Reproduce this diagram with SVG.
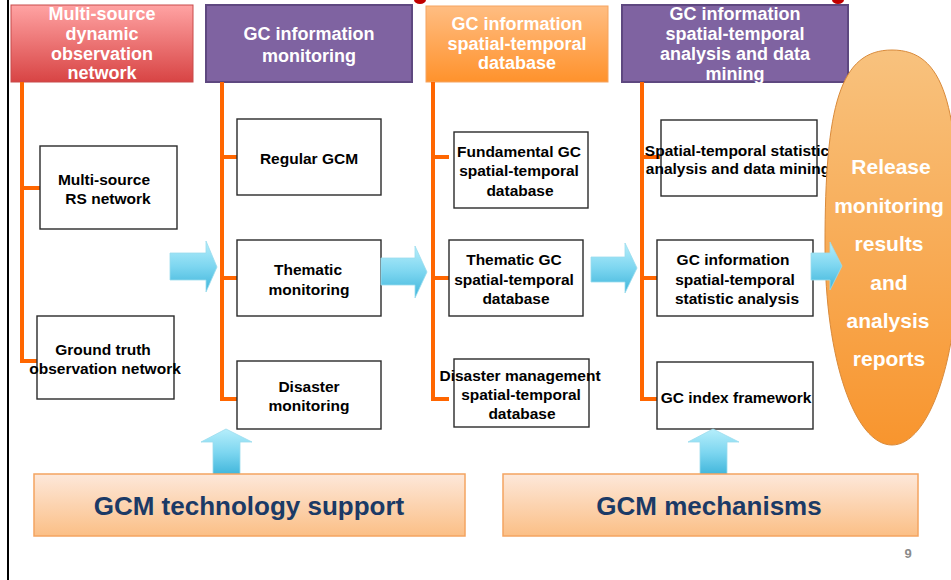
<svg xmlns="http://www.w3.org/2000/svg" width="951" height="580" viewBox="0 0 951 580">
  <defs>
    <linearGradient id="gRed" x1="0" y1="0" x2="0" y2="1">
      <stop offset="0" stop-color="#ffa3a3"/>
      <stop offset="1" stop-color="#d84444"/>
    </linearGradient>
    <linearGradient id="gOrange" x1="0" y1="0" x2="0" y2="1">
      <stop offset="0" stop-color="#ffbd82"/>
      <stop offset="1" stop-color="#ff922c"/>
    </linearGradient>
    <linearGradient id="gPeach" x1="0" y1="0" x2="0" y2="1">
      <stop offset="0" stop-color="#fde8da"/>
      <stop offset="1" stop-color="#fbbf86"/>
    </linearGradient>
    <linearGradient id="gEgg" x1="0" y1="0" x2="0" y2="1">
      <stop offset="0" stop-color="#f8c27e"/>
      <stop offset="1" stop-color="#f8952e"/>
    </linearGradient>
    <linearGradient id="gCyan" x1="0" y1="0" x2="0" y2="1">
      <stop offset="0" stop-color="#b6eefb"/>
      <stop offset="0.5" stop-color="#7dd6f0"/>
      <stop offset="1" stop-color="#3db4da"/>
    </linearGradient>
    <style>
      .hdr { font-family: "Liberation Sans", Arial, sans-serif; font-weight: bold; font-size: 18px; fill: #ffffff; text-anchor: middle; }
      .lbl { font-family: "Liberation Sans", Arial, sans-serif; font-weight: bold; font-size: 15.5px; fill: #000000; text-anchor: middle; }
      .big { font-family: "Liberation Sans", Arial, sans-serif; font-weight: bold; font-size: 26px; fill: #1b3a66; text-anchor: middle; }
      .egg { font-family: "Liberation Sans", Arial, sans-serif; font-weight: bold; font-size: 21px; fill: #ffffff; text-anchor: middle; }
      .box { fill: #ffffff; stroke: #2a2a2a; stroke-width: 1.4; }
      .purple { fill: #7f63a1; stroke: #5e4880; stroke-width: 2; }
      .trunk { stroke: #ff6600; stroke-width: 4; fill: none; }
      .flow { fill: url(#gCyan); stroke: #9adcee; stroke-width: 0.8; }
    </style>
  </defs>

  <rect width="951" height="580" fill="#ffffff"/>
  <!-- page edge on the left -->
  <line x1="8" y1="0" x2="8" y2="580" stroke="#000" stroke-width="2"/>
  <!-- red title remnants at top edge -->
  <ellipse cx="420" cy="0" rx="6" ry="4" fill="#c00000"/>
  <ellipse cx="838" cy="0" rx="6" ry="4" fill="#c00000"/>

  <!-- column headers -->
  <g id="hdr-observation">
    <rect x="11" y="5" width="182" height="77" fill="url(#gRed)" stroke="#c84a4a" stroke-width="1"/>
    <text class="hdr" x="102" y="20">Multi-source</text>
    <text class="hdr" x="102" y="40">dynamic</text>
    <text class="hdr" x="102" y="60">observation</text>
    <text class="hdr" x="102" y="79">network</text>
  </g>
  <g id="hdr-monitoring">
    <rect class="purple" x="206" y="5" width="206" height="77"/>
    <text class="hdr" x="309" y="40">GC information</text>
    <text class="hdr" x="309" y="62">monitoring</text>
  </g>
  <g id="hdr-database">
    <rect x="426" y="6" width="182" height="76" fill="url(#gOrange)" stroke="#f5a460" stroke-width="1"/>
    <text class="hdr" x="517" y="30">GC information</text>
    <text class="hdr" x="517" y="50">spatial-temporal</text>
    <text class="hdr" x="517" y="69">database</text>
  </g>
  <g id="hdr-analysis">
    <rect class="purple" x="622" y="5" width="226" height="77"/>
    <text class="hdr" x="735" y="20">GC information</text>
    <text class="hdr" x="735" y="40">spatial-temporal</text>
    <text class="hdr" x="735" y="60">analysis and data</text>
    <text class="hdr" x="735" y="80">mining</text>
  </g>

  <!-- orange tree connectors -->
  <g id="connectors">
    <path class="trunk" d="M22 82 V361 H37 M22 188 H40"/>
    <path class="trunk" d="M222 82 V399 H237 M222 157 H237 M222 278 H237"/>
    <path class="trunk" d="M433 82 V399 H449 M433 157 H449 M433 278 H449"/>
    <path class="trunk" d="M642 82 V399 H660 M642 157 H660 M642 278 H657"/>
  </g>

  <!-- observation column -->
  <g id="n-rs">
    <rect class="box" x="40" y="146" width="137" height="83"/>
    <text class="lbl" x="104" y="185">Multi-source</text>
    <text class="lbl" x="108" y="204">RS network</text>
  </g>
  <g id="n-ground">
    <rect class="box" x="37" y="316" width="137" height="83"/>
    <text class="lbl" x="103" y="355">Ground truth</text>
    <text class="lbl" x="105" y="374">observation network</text>
  </g>

  <!-- monitoring column -->
  <g id="n-regular">
    <rect class="box" x="237" y="119" width="144" height="76"/>
    <text class="lbl" x="309" y="164">Regular GCM</text>
  </g>
  <g id="n-thematic">
    <rect class="box" x="237" y="240" width="144" height="76"/>
    <text class="lbl" x="308" y="275">Thematic</text>
    <text class="lbl" x="309" y="295">monitoring</text>
  </g>
  <g id="n-disaster">
    <rect class="box" x="237" y="361" width="144" height="68"/>
    <text class="lbl" x="309" y="392">Disaster</text>
    <text class="lbl" x="309" y="411">monitoring</text>
  </g>

  <!-- database column -->
  <g id="n-fundamental-db">
    <rect class="box" x="454" y="132" width="134" height="76"/>
    <text class="lbl" x="519" y="157">Fundamental GC</text>
    <text class="lbl" x="519" y="176">spatial-temporal</text>
    <text class="lbl" x="520" y="196">database</text>
  </g>
  <g id="n-thematic-db">
    <rect class="box" x="449" y="240" width="134" height="76"/>
    <text class="lbl" x="514" y="265">Thematic GC</text>
    <text class="lbl" x="514" y="285">spatial-temporal</text>
    <text class="lbl" x="516" y="304">database</text>
  </g>
  <g id="n-disaster-db">
    <rect class="box" x="454" y="359" width="135" height="68"/>
    <text class="lbl" x="520" y="381">Disaster management</text>
    <text class="lbl" x="521" y="400">spatial-temporal</text>
    <text class="lbl" x="522" y="419">database</text>
  </g>

  <!-- analysis column -->
  <g id="n-mining">
    <rect class="box" x="661" y="120" width="156" height="76"/>
    <text class="lbl" x="737" y="156">Spatial-temporal statistic</text>
    <text class="lbl" x="738" y="174">analysis and data mining</text>
  </g>
  <g id="n-statistic">
    <rect class="box" x="657" y="240" width="156" height="76"/>
    <text class="lbl" x="733" y="265">GC information</text>
    <text class="lbl" x="735" y="285">spatial-temporal</text>
    <text class="lbl" x="737" y="304">statistic analysis</text>
  </g>
  <g id="n-index">
    <rect class="box" x="657" y="362" width="156" height="67"/>
    <text class="lbl" x="736" y="403">GC index framework</text>
  </g>

  <!-- release results (egg shape) -->
  <g id="n-release">
    <path d="M892 50 C840 50 825 105 825 245 C825 360 855 445 892 445 C929 445 959 360 959 245 C959 105 944 50 892 50 Z" fill="url(#gEgg)" stroke="#d98a3a" stroke-width="1"/>
    <text class="egg" x="891" y="174">Release</text>
    <text class="egg" x="889" y="213">monitoring</text>
    <text class="egg" x="889" y="251">results</text>
    <text class="egg" x="889" y="290">and</text>
    <text class="egg" x="888" y="328">analysis</text>
    <text class="egg" x="889" y="366">reports</text>
  </g>

  <!-- cyan flow arrows, drawn above the boxes and the egg -->
  <g id="flow-arrows">
    <path class="flow" d="M170 253 H206 V241 L217 267 L206 292 V280 H170 Z"/>
    <path class="flow" d="M381 258 H415 V246 L427 272 L415 298 V285 H381 Z"/>
    <path class="flow" d="M591 257 H625 V243 L637 268 L625 293 V282 H591 Z"/>
    <path class="flow" d="M811 253 H830 V242 L842 266 L830 290 V280 H811 Z"/>
    <path class="flow" d="M213 476 V442 H201 L226 429 L252 442 H240 V476 Z"/>
    <path class="flow" d="M700 476 V442 H688 L713 429 L739 442 H727 V476 Z"/>
  </g>

  <!-- supporting bars -->
  <g id="n-tech-support">
    <rect x="34" y="474" width="431" height="62" fill="url(#gPeach)" stroke="#f4a460" stroke-width="1.5"/>
    <text class="big" x="249" y="515">GCM technology support</text>
  </g>
  <g id="n-mechanisms">
    <rect x="503" y="474" width="415" height="62" fill="url(#gPeach)" stroke="#f4a460" stroke-width="1.5"/>
    <text class="big" x="709" y="515">GCM mechanisms</text>
  </g>

  <text x="908" y="558" font-family="Liberation Sans, Arial, sans-serif" font-weight="bold" font-size="13" fill="#8a8a8a" text-anchor="middle">9</text>
</svg>
